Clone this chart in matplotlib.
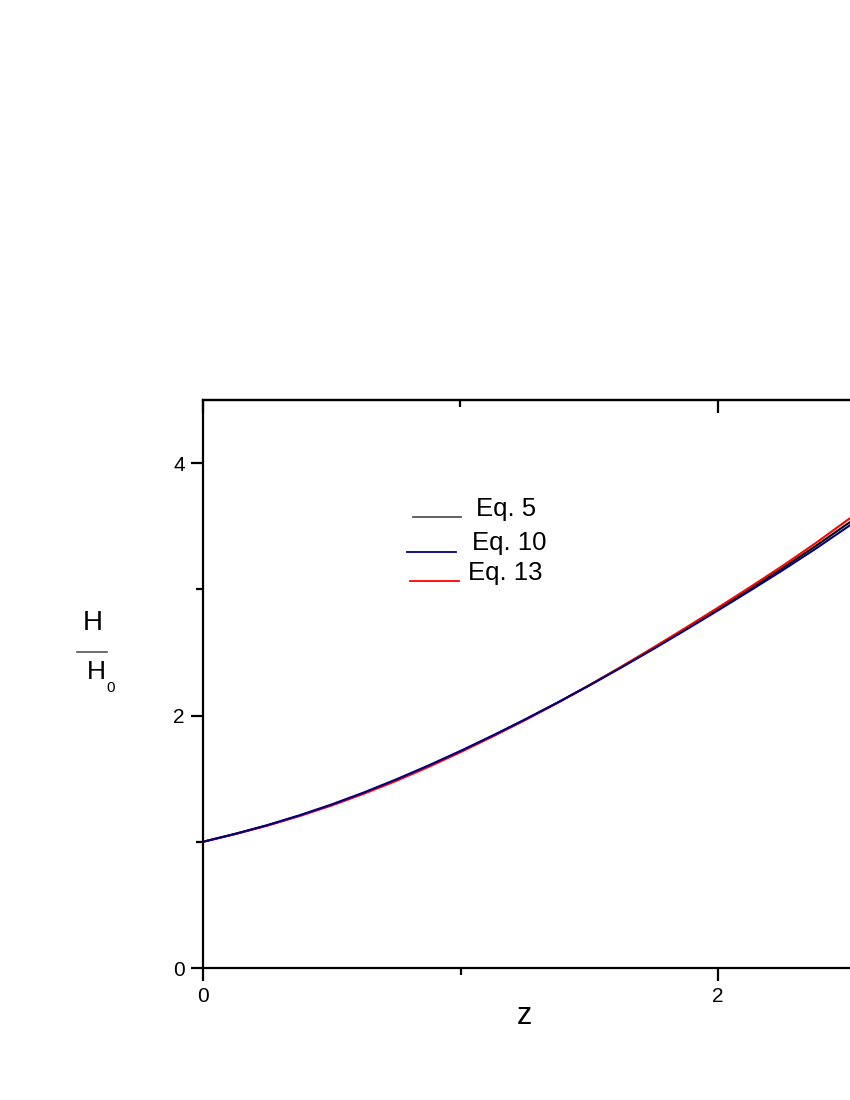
import matplotlib
matplotlib.use("Agg")
import matplotlib.pyplot as plt
from matplotlib.lines import Line2D

plt.rcParams['font.family'] = ['Liberation Sans', 'DejaVu Sans']

# Data
z = [0.0, 0.125, 0.25, 0.375, 0.5, 0.625, 0.75, 0.875, 1.0, 1.125, 1.25,
     1.375, 1.5, 1.625, 1.75, 1.875, 2.0, 2.125, 2.25, 2.375, 2.5, 2.55]
h_eq5 = [1.000, 1.062, 1.130, 1.207, 1.292, 1.386, 1.488, 1.598, 1.715, 1.838, 1.966,
         2.100, 2.240, 2.385, 2.534, 2.687, 2.843, 3.003, 3.167, 3.337, 3.515, 3.585]
h_eq10 = [1.000, 1.063, 1.132, 1.210, 1.296, 1.391, 1.494, 1.604, 1.720, 1.842, 1.969,
          2.101, 2.238, 2.381, 2.528, 2.679, 2.833, 2.990, 3.150, 3.316, 3.490, 3.560]
h_eq13 = [1.000, 1.061, 1.128, 1.204, 1.288, 1.381, 1.482, 1.592, 1.710, 1.834, 1.963,
          2.098, 2.240, 2.388, 2.540, 2.696, 2.855, 3.018, 3.185, 3.360, 3.545, 3.615]

legend_labels = ["Eq. 5", "Eq. 10", "Eq. 13"]
colors = ["#000000", "#000080", "#FF0000"]
legend_colors = ["#555555", "#000080", "#FF0000"]

W, H = 850, 1100
fig = plt.figure(figsize=(8.5, 11), dpi=100)

def fx(px):
    return px / W

def fy(py):
    return 1 - py / H

x_max = 3.0
left_px, right_px = 203, 203 + 257.5 * x_max
bottom_px, top_px = 968, 400
ax = fig.add_axes([fx(left_px), fy(bottom_px), (right_px - left_px) / W,
                   (bottom_px - top_px) / H])
ax.set_xlim(0, x_max)
ax.set_ylim(0, 4.5)

ax.plot(z, h_eq5, color=colors[0], lw=1.5, zorder=3)
ax.plot(z, h_eq13, color=colors[2], lw=1.5, zorder=4)
ax.plot(z, h_eq10, color=colors[1], lw=1.5, zorder=5)

for s in ax.spines.values():
    s.set_linewidth(1.6)

ax.set_xticks([0, 2])
ax.set_xticks([1, 3], minor=True)
ax.set_yticks([0, 2, 4])
ax.set_yticks([1, 3], minor=True)
ax.tick_params(axis='both', which='major', direction='out', length=9, width=1.6,
               labelsize=15, pad=4)
ax.tick_params(axis='both', which='minor', direction='out', length=5, width=1.6)
ax.tick_params(axis='x', which='major', pad=5)
ax.tick_params(axis='x', which='both', top=False)

# top ticks point inward
sec = ax.secondary_xaxis('top')
sec.set_xticks([0, 2])
sec.set_xticks([1, 3], minor=True)
sec.tick_params(axis='x', which='major', direction='in', length=9, width=1.6, labeltop=False)
sec.tick_params(axis='x', which='minor', direction='in', length=5, width=1.6)
sec.spines['top'].set_linewidth(1.6)

# x label
fig.text(fx(524), fy(1016), "z", fontsize=22, ha='center', va='center')

# y label as a fraction H / H0
fig.text(fx(93), fy(623), "H", fontsize=20, ha='center', va='center')
fig.add_artist(Line2D([fx(77), fx(107)], [fy(652), fy(652)], color="#555555", lw=1.2,
                      transform=fig.transFigure))
fig.text(fx(96), fy(672), "H", fontsize=19, ha='center', va='center')
fig.text(fx(111), fy(688), "0", fontsize=11, ha='center', va='center')

# legend (Origin-style, free positioned)
leg_lines = [(413, 461, 517), (407, 456, 552), (410, 459, 581)]
leg_text = [(476, 509), (472, 543), (468, 573)]
for (x0, x1, yy), (tx, ty), lab, c in zip(leg_lines, leg_text, legend_labels, legend_colors):
    fig.add_artist(Line2D([fx(x0), fx(x1)], [fy(yy), fy(yy)], color=c, lw=1.3,
                          transform=fig.transFigure))
    fig.text(fx(tx), fy(ty), lab, fontsize=18.5, ha='left', va='center')

fig.savefig("out.png", dpi=100)
